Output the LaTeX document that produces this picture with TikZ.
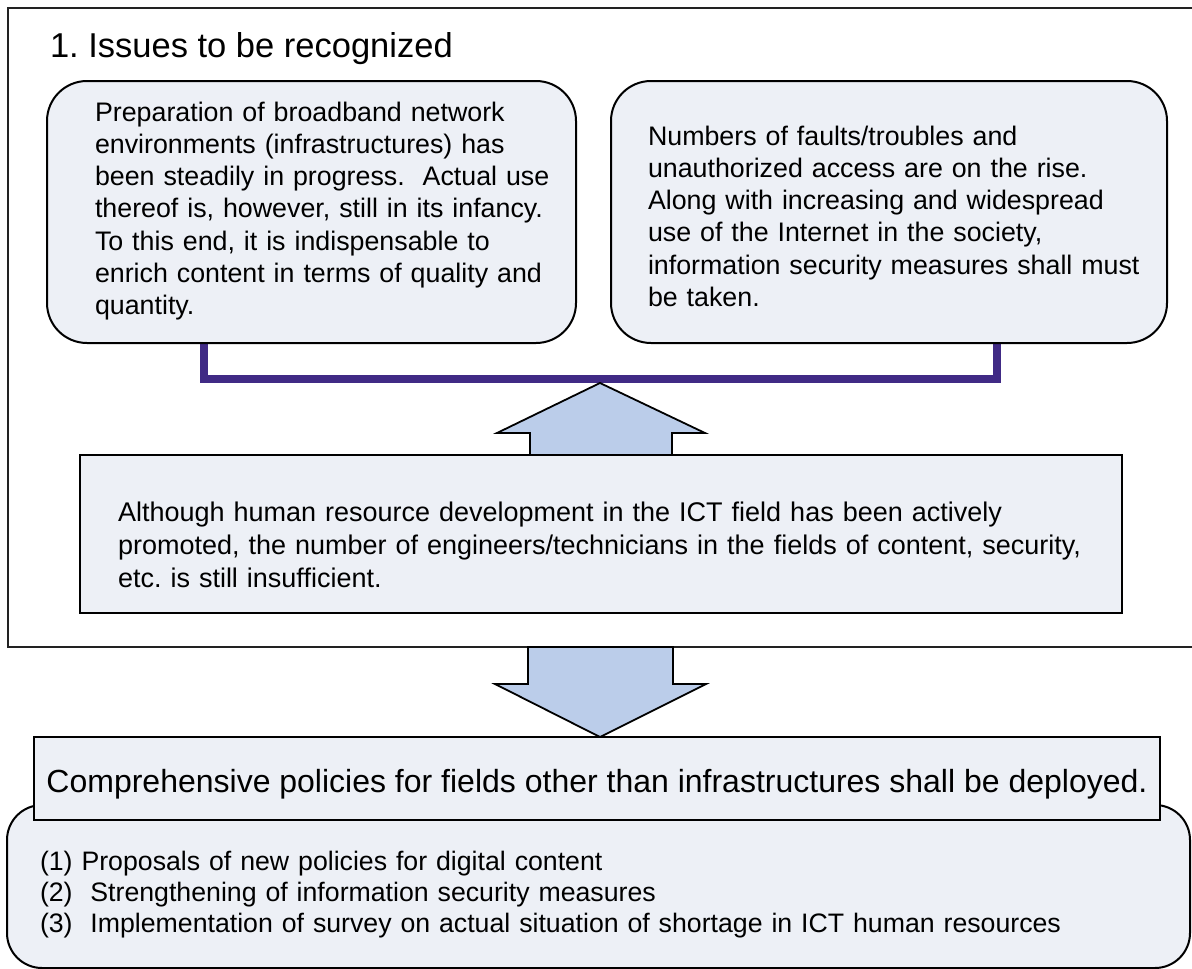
\documentclass[tikz,border=0pt]{standalone}
\usepackage{fontspec}
\setmainfont{Liberation Sans}
\usetikzlibrary{calc}
\definecolor{boxfill}{HTML}{EDF0F6}
\definecolor{arrowfill}{HTML}{BBCDEA}
\definecolor{bracketcol}{HTML}{402A85}
\definecolor{framecol}{HTML}{222222}
\frenchspacing
\begin{document}
\begin{tikzpicture}[x=1pt,y=-1pt,
  every node/.style={inner sep=0pt, outer sep=0pt},
  issuebox/.style={draw=black, line width=2pt, fill=boxfill, rounded corners=40pt, anchor=north west},
  plainbox/.style={draw=black, line width=2pt, fill=boxfill, anchor=north west},
  bodytext/.style={font=\fontsize{26.8}{32.3}\selectfont, align=left, anchor=base west},
  blockarrow/.style={draw=black, line width=1.8pt, fill=arrowfill, line join=miter},
]
\useasboundingbox (0,0) rectangle (1192,969);

% outer frame of section 1 (open on the right)
\draw[framecol, line width=2pt] (1192,8) -- (8,8) -- (8,647) -- (1192,647);
\node[font=\fontsize{34.5}{41}\selectfont, anchor=base west] (title) at (50,57) {1. Issues to be recognized};

% bracket joining the two issue boxes
\coordinate (bl) at (204,343);
\coordinate (br) at (997,343);
\draw[bracketcol, line width=8pt, line join=miter] (bl) -- (204,379) -- (997,379) -- (br);

% issue boxes
\node[issuebox, minimum width=529pt, minimum height=262pt] (lbox) at (47,81) {};
\node[issuebox, minimum width=556pt, minimum height=262pt] (rbox) at (611,81) {};

\node[bodytext, text width=470pt] (ltext) at (95,121)
 {Preparation of broadband network\\
  environments (infrastructures) has\\
  been steadily in progress.\ \ Actual use\\
  thereof is, however, still in its infancy.\\
  To this end, it is indispensable to\\
  enrich content in terms of quality and\\
  quantity.};
\node[bodytext, text width=510pt] (rtext) at (648,145)
 {Numbers of faults/troubles and\\
  unauthorized access are on the rise.\\
  Along with increasing and widespread\\
  use of the Internet in the society,\\
  information security measures shall must\\
  be taken.};

% middle box: human resources
\node[plainbox, minimum width=1042pt, minimum height=158pt] (mbox) at (80,455) {};

% up arrow from the middle box to the bracket
\draw[blockarrow] (530,455) -- (530,433) -- (497,433) -- (600,383) -- (705,433) -- (672,433) -- (672,455);
\draw[plainbox] (mbox.north west) rectangle (mbox.south east);

\node[bodytext, font=\fontsize{27}{33}\selectfont, text width=1000pt] (mtext) at (118,521)
 {Although human resource development in the ICT field has been actively\\
  promoted, the number of engineers/technicians in the fields of content, security,\\
  etc. is still insufficient.};

% down arrow to the conclusion
\draw[blockarrow] (528,647) -- (528,684) -- (495,684) -- (600,737) -- (706,684) -- (673,684) -- (673,647) -- cycle;

% measures box
\node[draw=black, line width=2pt, fill=boxfill, rounded corners=35pt, anchor=north west,
      minimum width=1183pt, minimum height=163pt] (mbottom) at (7,805) {};
\node[bodytext, font=\fontsize{26.7}{31}\selectfont, text width=1120pt] (list) at (40,870)
 {(1) Proposals of new policies for digital content\\
  (2)\ \ Strengthening of information security measures\\
  (3)\ \ Implementation of survey on actual situation of shortage in ICT human resources};

% conclusion heading box
\node[plainbox, minimum width=1126pt, minimum height=83pt] (head) at (34,737) {};
\node[font=\fontsize{32}{38}\selectfont, anchor=base] (headtext) at (597,792)
 {Comprehensive policies for fields other than infrastructures shall be deployed.};
\end{tikzpicture}
\end{document}
